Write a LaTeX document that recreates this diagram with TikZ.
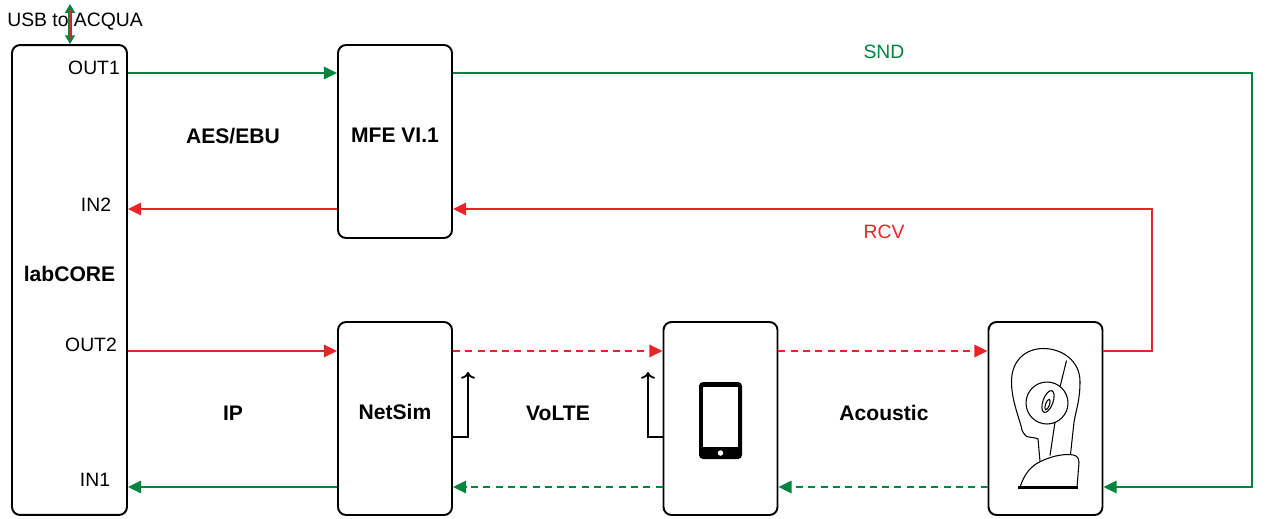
\documentclass[tikz,border=0pt]{standalone}
\usepackage{fontspec}
\setmainfont{Liberation Sans}
\usetikzlibrary{arrows.meta}
\definecolor{sndgreen}{RGB}{0,133,62}
\definecolor{rcvred}{RGB}{232,36,40}
\tikzstyle{box} = [draw, rounded corners = 1.6mm, line width = 1.1pt, inner sep = 0pt, font = \fontsize{12}{14}\selectfont\bfseries, text height = 8.6pt, text depth = 7pt]
\tikzstyle{unit} = [box, minimum width = 2.28cm, minimum height = 3.86cm]
\tikzstyle{port} = [font = \fontsize{11}{13}\selectfont]
\tikzstyle{tag} = [font = \fontsize{12}{14}\selectfont\bfseries]
\tikzstyle{snd} = [draw = sndgreen, line width = 1.3pt, -{Triangle[length = 7.5pt, width = 7pt]}]
\tikzstyle{rcv} = [draw = rcvred, line width = 1.3pt, -{Triangle[length = 7.5pt, width = 7pt]}]
\tikzstyle{radio} = [dash pattern = on 4pt off 3pt]
\tikzstyle{ctrl} = [->, line width = 1pt]

\begin{document}
\begin{tikzpicture}[x = 0.02cm, y = -0.02cm]
            \useasboundingbox (0, 0) rectangle (1268, 518);
            \node (core) at (69.5, 280) [box, minimum width = 2.3cm, minimum height = 9.4cm] {labCORE};
            \node (mfe) at (395, 141.5) [unit] {MFE VI.1};
            \node (netsim) at (395, 418.5) [unit] {NetSim};
            \node (phone) at (720.5, 418.5) [unit] {};
            \node (head) at (1045.5, 418.5) [unit] {};
            % port names
            \node (out1) at (94, 68) [port] {OUT1};
            \node (in2) at (96, 205) [port] {IN2};
            \node (out2) at (91, 345) [port] {OUT2};
            \node (in1) at (95, 480) [port] {IN1};
            \node (usbtext) at (75, 22) [port] {USB to ACQUA};
            % link names
            \node (aes) at (233, 136) [tag] {AES/EBU};
            \node (ip) at (233, 413) [tag] {IP};
            \node (volte) at (558, 413) [tag] {VoLTE};
            \node (acoustic) at (884, 413) [tag] {Acoustic};
            \node (sndtext) at (884, 52) [port, text = sndgreen] {SND};
            \node (rcvtext) at (884, 232) [port, text = rcvred] {RCV};
            % signal rows
            \coordinate (r1) at (0, 73);
            \coordinate (r2) at (0, 209);
            \coordinate (r3) at (0, 351);
            \coordinate (r4) at (0, 487);
            \coordinate (r5) at (0, 437);
            \coordinate (sndx) at (1252, 0);
            \coordinate (rcvx) at (1152, 0);
            \draw [snd] (core.east |- r1) -- (mfe.west |- r1);
            \draw [rcv] (mfe.west |- r2) -- (core.east |- r2);
            \draw [rcv] (core.east |- r3) -- (netsim.west |- r3);
            \draw [snd] (netsim.west |- r4) -- (core.east |- r4);
            \draw [rcv, radio] (netsim.east |- r3) -- (phone.west |- r3);
            \draw [rcv, radio] (phone.east |- r3) -- (head.west |- r3);
            \draw [snd, radio] (head.west |- r4) -- (phone.east |- r4);
            \draw [snd, radio] (phone.west |- r4) -- (netsim.east |- r4);
            \draw [snd] (mfe.east |- r1) -| (sndx |- r4) -- (head.east |- r4);
            \draw [rcv] (head.east |- r3) -| (rcvx |- r2) -- (mfe.east |- r2);
            % control taps
            \coordinate (c1) at (468, 372);
            \coordinate (c2) at (648, 372);
            \draw [ctrl] (netsim.east |- r5) -| (c1);
            \draw [ctrl] (phone.west |- r5) -| (c2);
            % usb link
            \coordinate (usb) at (70, 4);
            \draw [sndgreen, line width = 2pt, {Triangle[length = 5pt, width = 5.5pt]}-{Triangle[length = 5pt, width = 5.5pt]}] (usb) -- (core.north -| usb);
            \draw [rcvred, line width = 1.1pt, shorten <= 3pt, shorten >= 3pt] (usb) -- (core.north -| usb);
            % handset
            \begin{scope}[shift = {(phone.center)}]
                \fill [rounded corners = 0.8mm] (-21.5, -36.5) rectangle (21.5, 40.5);
                \fill [white] (-17.5, -31.5) rectangle (17.5, 28.5);
                \fill [white] (0, 34.5) circle (0.55mm);
            \end{scope}
            % artificial head
            \begin{scope}[shift = {(head.center)}, line width = 0.6pt]
                \draw (-5.5, 43) -- (-7.5, 20.5) .. controls (-10, 19) and (-15, 19) .. (-19, 18) .. controls (-22, 15) and (-24, 12) .. (-24, 9) .. controls (-28, -5) and (-34, -20) .. (-34, -37) .. controls (-34, -58) and (-20, -70) .. (-2, -70) .. controls (16, -70) and (34.5, -58) .. (34.5, -37) .. controls (34.5, -15) and (29, -5) .. (28, 8) -- (25, 36);
                \draw (1.5, -15.5) circle (4.2mm);
                \draw (21, -58) -- (14.5, -31.5);
                \draw (9.5, 3.5) -- (4.5, 37);
                \draw [rotate around = {-20:(2.5, -17)}] (2.5, -17) ellipse (1mm and 2.3mm);
                \draw [rotate around = {-20:(2, -14)}] (2, -14) ellipse (0.4mm and 1.1mm);
                \draw (-25.5, 68.5) .. controls (-21, 55) and (-14, 47) .. (-5, 43) .. controls (5, 38) and (15, 36) .. (23, 36) .. controls (30, 36) and (33.5, 38) .. (33.5, 44) -- (31.5, 68.5) -- cycle;
                \draw (-26.5, 68.5) rectangle (32, 70.2);
            \end{scope}
        \end{tikzpicture}
\end{document}
